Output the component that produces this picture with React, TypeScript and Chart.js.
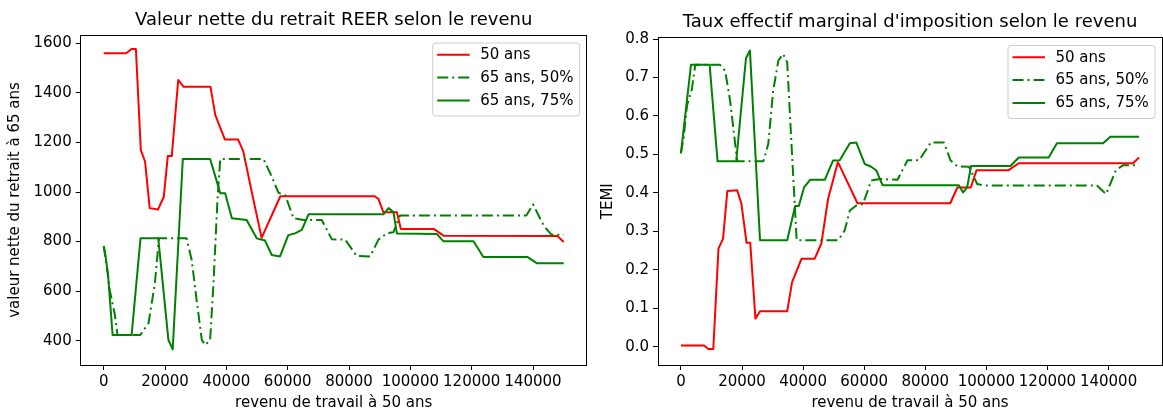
import React, { useEffect, useRef } from "react";
import { Chart, registerables } from "chart.js";

Chart.register(...registerables);

const FONT = "'DejaVu Sans', 'Liberation Sans', Arial, sans-serif";

// ---------- shared ----------
const seriesLabels = ["50 ans", "65 ans, 50%", "65 ans, 75%"];
const xTickValues = [0, 20000, 40000, 60000, 80000, 100000, 120000, 140000];
const xAxisTitle = "revenu de travail à 50 ans";

// ---------- left chart: valeur nette ----------
const leftTitle = "Valeur nette du retrait REER selon le revenu";
const leftYTitle = "valeur nette du retrait à 65 ans";
const leftYTickValues = [400, 600, 800, 1000, 1200, 1400, 1600];

const leftRedX = [0, 7300, 9100, 10500, 12100, 13500, 15000, 17700, 19600, 20900, 22200, 24300, 26000, 34800, 36400, 39500, 43800, 45500, 48800, 51500, 57600, 88400, 89600, 91200, 95600, 96900, 107600, 110800, 148000, 150000];
const leftRedY = [1560, 1560, 1577, 1577, 1170, 1122, 935, 929, 981, 1145, 1145, 1452, 1425, 1425, 1310, 1212, 1212, 1165, 970, 815, 983, 983, 972, 918, 918, 851, 851, 824, 822, 798];

const leftDashX = [0, 900, 2000, 3600, 4500, 11900, 14600, 16700, 18000, 27000, 28700, 30300, 32000, 33100, 34700, 35800, 37100, 38000, 52100, 54800, 57000, 59200, 61900, 65100, 71100, 74400, 78700, 82500, 86900, 89600, 92300, 94500, 96600, 137800, 140000, 143500, 146000, 150000];
const leftDashY = [782, 710, 602, 508, 423, 423, 470, 632, 813, 813, 726, 564, 403, 383, 403, 632, 968, 1133, 1133, 1062, 997, 987, 894, 887, 887, 809, 808, 742, 740, 808, 833, 838, 905, 905, 950, 864, 828, 828];

const leftSolidX = [0, 500, 1400, 2900, 9100, 12000, 17800, 21100, 22500, 25800, 34700, 36900, 38000, 39600, 41800, 46600, 49900, 52600, 54800, 57500, 60200, 62400, 64600, 66800, 91200, 92900, 94500, 95600, 108600, 110800, 120600, 123800, 138100, 141200, 150000];
const leftSolidY = [782, 750, 669, 423, 423, 813, 813, 403, 365, 1133, 1133, 1042, 995, 995, 894, 887, 813, 804, 746, 740, 826, 833, 847, 910, 910, 935, 918, 833, 831, 801, 801, 738, 738, 713, 713];

// ---------- right chart: TEMI ----------
const rightTitle = "Taux effectif marginal d'imposition selon le revenu";
const rightYTitle = "TEMI";
const rightYTickValues = [0, 0.1, 0.2, 0.3, 0.4, 0.5, 0.6, 0.7, 0.8];

const rightRedX = [0, 7600, 9000, 10600, 12300, 13800, 15200, 18400, 19800, 21500, 22700, 24400, 25900, 34800, 36400, 39500, 43800, 46000, 48200, 51400, 57800, 88200, 90500, 94900, 96800, 107300, 110600, 148000, 150000];
const rightRedY = [0.003, 0.003, -0.006, -0.006, 0.255, 0.281, 0.405, 0.407, 0.372, 0.27, 0.27, 0.073, 0.092, 0.092, 0.168, 0.229, 0.229, 0.269, 0.385, 0.48, 0.373, 0.373, 0.414, 0.414, 0.459, 0.459, 0.477, 0.477, 0.492];

const rightDashX = [0, 900, 2000, 3600, 4700, 12800, 14500, 16100, 18100, 18500, 27000, 28600, 30200, 31900, 33500, 34800, 36200, 37900, 51500, 53600, 55300, 57400, 59600, 62300, 65100, 70900, 74200, 78000, 81800, 86100, 88300, 90500, 94300, 97000, 99200, 136200, 139200, 142400, 144800, 150000];
const rightDashY = [0.503, 0.544, 0.627, 0.67, 0.733, 0.733, 0.717, 0.64, 0.505, 0.482, 0.482, 0.527, 0.665, 0.744, 0.761, 0.739, 0.527, 0.277, 0.277, 0.302, 0.354, 0.367, 0.371, 0.432, 0.436, 0.434, 0.485, 0.485, 0.531, 0.531, 0.484, 0.469, 0.468, 0.423, 0.419, 0.419, 0.397, 0.459, 0.472, 0.472];

const rightSolidX = [0, 3300, 9400, 12000, 18100, 21300, 22600, 25900, 34800, 37400, 38600, 40300, 42300, 47100, 49800, 52000, 55300, 57400, 60200, 62300, 64000, 66000, 91000, 92400, 93700, 95000, 107900, 110600, 120400, 123100, 138200, 140600, 150000];
const rightSolidY = [0.503, 0.733, 0.733, 0.482, 0.482, 0.75, 0.77, 0.277, 0.277, 0.366, 0.366, 0.414, 0.434, 0.434, 0.484, 0.485, 0.529, 0.531, 0.475, 0.468, 0.458, 0.42, 0.42, 0.401, 0.414, 0.47, 0.47, 0.492, 0.492, 0.529, 0.529, 0.546, 0.546];

// ---------- styles ----------
const RED = "#ff0000";
const GREEN = "#008000";
const DASHDOT = [11, 4, 2, 4];
const TEXT_SIZE = 15;
const TITLE_SIZE = 18;

function pts(xs: number[], ys: number[]) {
  return xs.map((x, i) => ({ x, y: ys[i] }));
}

function makeDatasets(rx: number[], ry: number[], dx: number[], dy: number[], sx: number[], sy: number[]) {
  return [
    { label: seriesLabels[0], data: pts(rx, ry), borderColor: RED, borderWidth: 2, pointRadius: 0, tension: 0, order: 3, borderDash: [] as number[] },
    { label: seriesLabels[1], data: pts(dx, dy), borderColor: GREEN, borderWidth: 2, pointRadius: 0, tension: 0, order: 2, borderDash: DASHDOT },
    { label: seriesLabels[2], data: pts(sx, sy), borderColor: GREEN, borderWidth: 2, pointRadius: 0, tension: 0, order: 1, borderDash: [] as number[] },
  ];
}

type Spec = {
  title: string;
  yTitle: string;
  yTitleX: number;
  yMin: number;
  yMax: number;
  yTicks: number[];
  yFmt: (v: number) => string;
  yWidth: number;
  padTop: number;
  padRight: number;
  datasets: any[];
};

function decorPlugin(spec: Spec) {
  return {
    id: "mplDecor",
    afterDraw(chart: any) {
      const { ctx, chartArea: ca } = chart;
      ctx.save();
      // frame (all four spines)
      ctx.strokeStyle = "#000";
      ctx.lineWidth = 1;
      ctx.setLineDash([]);
      const l = Math.floor(ca.left) + 0.5;
      const r = Math.floor(ca.right) + 0.5;
      const t = Math.floor(ca.top) + 0.5;
      const b = Math.floor(ca.bottom) + 0.5;
      ctx.strokeRect(l, t, r - l, b - t);

      const cx = (ca.left + ca.right) / 2;
      ctx.fillStyle = "#000";
      // title
      ctx.font = `${TITLE_SIZE}px ${FONT}`;
      ctx.textAlign = "center";
      ctx.textBaseline = "middle";
      ctx.fillText(spec.title, cx, ca.top - 15);
      // x-axis title
      ctx.font = `${TEXT_SIZE}px ${FONT}`;
      ctx.fillText(xAxisTitle, cx, ca.bottom + 38);
      // y-axis title
      ctx.save();
      ctx.translate(spec.yTitleX, (ca.top + ca.bottom) / 2);
      ctx.rotate(-Math.PI / 2);
      ctx.fillText(spec.yTitle, 0, 0);
      ctx.restore();

      // legend (upper right, inside axes)
      const w = 147;
      const h = 73;
      const lx = ca.right - 7 - w;
      const ly = ca.top + 8;
      const rad = 3;
      ctx.beginPath();
      ctx.moveTo(lx + rad, ly);
      ctx.lineTo(lx + w - rad, ly);
      ctx.arcTo(lx + w, ly, lx + w, ly + rad, rad);
      ctx.lineTo(lx + w, ly + h - rad);
      ctx.arcTo(lx + w, ly + h, lx + w - rad, ly + h, rad);
      ctx.lineTo(lx + rad, ly + h);
      ctx.arcTo(lx, ly + h, lx, ly + h - rad, rad);
      ctx.lineTo(lx, ly + rad);
      ctx.arcTo(lx, ly, lx + rad, ly, rad);
      ctx.closePath();
      ctx.fillStyle = "rgba(255,255,255,0.8)";
      ctx.fill();
      ctx.strokeStyle = "#cccccc";
      ctx.lineWidth = 1;
      ctx.stroke();

      const dsets = chart.data.datasets;
      ctx.textAlign = "left";
      ctx.textBaseline = "middle";
      ctx.font = `${TEXT_SIZE}px ${FONT}`;
      dsets.forEach((ds: any, i: number) => {
        const y = ly + 11.8 + i * 22.8;
        ctx.beginPath();
        ctx.setLineDash(ds.borderDash || []);
        ctx.strokeStyle = ds.borderColor;
        ctx.lineWidth = 2;
        ctx.moveTo(lx + 4.5, y);
        ctx.lineTo(lx + 37, y);
        ctx.stroke();
        ctx.setLineDash([]);
        ctx.fillStyle = "#000";
        ctx.fillText(ds.label, lx + 47.5, y + 0.5);
      });
      ctx.restore();
    },
  };
}

function makeConfig(spec: Spec): any {
  const tickFont = { family: FONT, size: TEXT_SIZE };
  return {
    type: "line",
    data: { datasets: spec.datasets },
    options: {
      animation: false,
      responsive: false,
      maintainAspectRatio: false,
      devicePixelRatio: 1,
      layout: { padding: { left: 0, right: spec.padRight, top: spec.padTop, bottom: 0 } },
      plugins: { legend: { display: false }, tooltip: { enabled: false }, title: { display: false } },
      elements: { line: { borderCapStyle: "butt", borderJoinStyle: "round" } },
      scales: {
        x: {
          type: "linear",
          min: -7500,
          max: 157500,
          afterBuildTicks: (s: any) => {
            s.ticks = xTickValues.map((v) => ({ value: v }));
          },
          afterFit: (s: any) => {
            s.height = 46;
          },
          ticks: {
            autoSkip: false,
            maxRotation: 0,
            minRotation: 0,
            padding: 3,
            color: "#000",
            font: tickFont,
            callback: (v: any) => String(v),
          },
          grid: { display: true, drawOnChartArea: false, drawTicks: true, tickLength: 5, tickColor: "#000", tickWidth: 1 },
          border: { display: false },
          title: { display: false },
        },
        y: {
          type: "linear",
          min: spec.yMin,
          max: spec.yMax,
          afterBuildTicks: (s: any) => {
            s.ticks = spec.yTicks.map((v) => ({ value: v }));
          },
          afterFit: (s: any) => {
            s.width = spec.yWidth;
          },
          ticks: {
            autoSkip: false,
            padding: 4,
            color: "#000",
            font: tickFont,
            callback: (v: any) => spec.yFmt(Number(v)),
          },
          grid: { display: true, drawOnChartArea: false, drawTicks: true, tickLength: 5, tickColor: "#000", tickWidth: 1 },
          border: { display: false },
          title: { display: false },
        },
      },
    },
    plugins: [decorPlugin(spec)],
  };
}

const leftSpec: Spec = {
  title: leftTitle,
  yTitle: leftYTitle,
  yTitleX: 15.5,
  yMin: 302,
  yMax: 1633.5,
  yTicks: leftYTickValues,
  yFmt: (v) => String(Math.round(v)),
  yWidth: 80.7,
  padTop: 35,
  padRight: 5.3,
  datasets: makeDatasets(leftRedX, leftRedY, leftDashX, leftDashY, leftSolidX, leftSolidY),
};

const rightSpec: Spec = {
  title: rightTitle,
  yTitle: rightYTitle,
  yTitleX: 16,
  yMin: -0.0476,
  yMax: 0.804,
  yTicks: rightYTickValues,
  yFmt: (v) => v.toFixed(1),
  yWidth: 66,
  padTop: 37.5,
  padRight: 1,
  datasets: makeDatasets(rightRedX, rightRedY, rightDashX, rightDashY, rightSolidX, rightSolidY),
};

function ChartCanvas({ spec, left, width }: { spec: Spec; left: number; width: number }) {
  const ref = useRef<HTMLCanvasElement | null>(null);
  useEffect(() => {
    if (!ref.current) return;
    const chart = new Chart(ref.current, makeConfig(spec));
    return () => chart.destroy();
  }, [spec]);
  return (
    <canvas
      ref={ref}
      width={width}
      height={411}
      style={{ position: "absolute", left, top: 0, width, height: 411, display: "block" }}
    />
  );
}

export default function App() {
  return (
    <div style={{ position: "absolute", left: 0, top: 0, width: 1163, height: 411, background: "#fff", overflow: "hidden" }}>
      <ChartCanvas spec={leftSpec} left={0} width={592} />
      <ChartCanvas spec={rightSpec} left={592} width={571} />
    </div>
  );
}
